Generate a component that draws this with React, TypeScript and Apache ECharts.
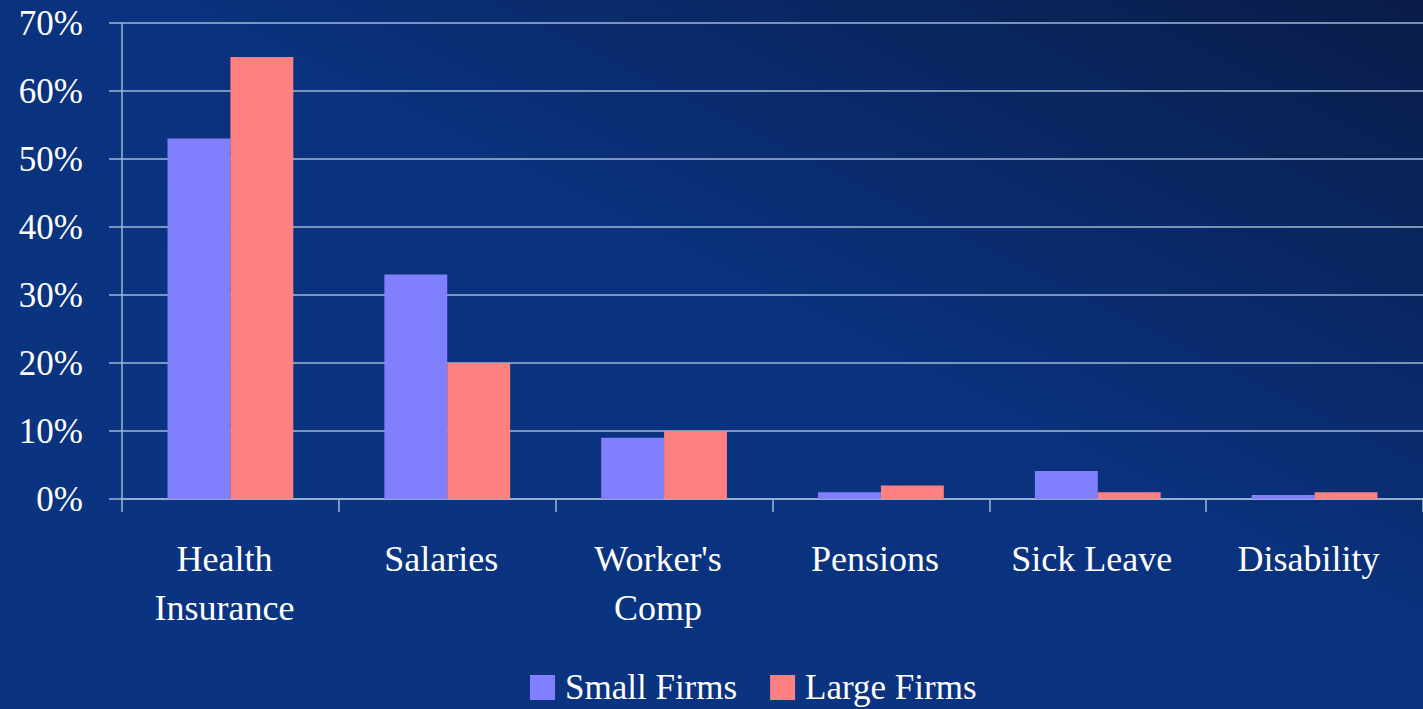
import React, { useEffect, useRef } from "react";
import * as echarts from "echarts";

const categories = ["Health\nInsurance", "Salaries", "Worker's\nComp", "Pensions", "Sick Leave", "Disability"];
const smallFirms = [53, 33, 9, 1, 4.1, 0.6];
const largeFirms = [65, 20, 10, 2, 1, 1];
const seriesNames = ["Small Firms", "Large Firms"];

export default function App() {
  const ref = useRef<HTMLDivElement>(null);
  useEffect(() => {
    const chart = echarts.init(ref.current!, null, { renderer: "svg" });
    const font = "'Liberation Serif', 'Times New Roman', serif";
    const lineColor = "#9fb9d3";
    chart.setOption({
      animation: false,
      backgroundColor: new echarts.graphic.LinearGradient(0, 1, 1, 0, [
        { offset: 0, color: "#0a3482" },
        { offset: 0.55, color: "#0a327e" },
        { offset: 1, color: "#0a1c48" },
      ]),
      textStyle: { fontFamily: font },
      grid: { left: 122, right: 0, top: 23, bottom: 210, containLabel: false },
      legend: {
        left: 525,
        top: 665,
        itemWidth: 25,
        itemHeight: 25,
        itemGap: 33,
        icon: "rect",
        textStyle: { color: "#ffffff", fontSize: 35, lineHeight: 34, fontFamily: font, padding: [0, 0, 0, 5] },
        data: seriesNames,
      },
      xAxis: {
        type: "category",
        data: categories,
        axisLine: { show: true, lineStyle: { color: lineColor, width: 1.5 } },
        axisTick: { show: true, length: 13, lineStyle: { color: lineColor, width: 1.5 } },
        axisLabel: {
          color: "#ffffff",
          fontSize: 36,
          fontFamily: font,
          lineHeight: 49,
          margin: 35,
          interval: 0,
          padding: [0, 12, 0, 0],
        },
      },
      yAxis: {
        type: "value",
        min: 0,
        max: 70,
        interval: 10,
        axisLine: { show: true, lineStyle: { color: lineColor, width: 1.5 } },
        axisTick: { show: true, length: 13, lineStyle: { color: lineColor, width: 1.5 } },
        splitLine: { show: true, lineStyle: { color: lineColor, width: 1.5 } },
        axisLabel: {
          color: "#ffffff",
          fontSize: 35,
          fontFamily: font,
          margin: 39,
          formatter: "{value}%",
        },
      },
      series: [
        {
          name: seriesNames[0],
          type: "bar",
          data: smallFirms,
          itemStyle: { color: "#8080ff" },
          barGap: "0%",
          barCategoryGap: "42%",
        },
        {
          name: seriesNames[1],
          type: "bar",
          data: largeFirms,
          itemStyle: { color: "#ff8080" },
          barGap: "0%",
          barCategoryGap: "42%",
        },
      ],
    });
    return () => chart.dispose();
  }, []);
  return <div ref={ref} style={{ position: "fixed", left: 0, top: 0, width: 1423, height: 709 }} />;
}
